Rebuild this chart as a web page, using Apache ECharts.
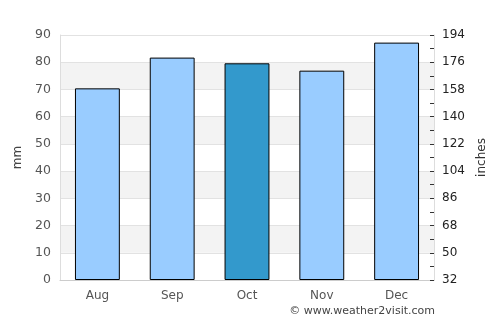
<!DOCTYPE html>
<html><head><meta charset="utf-8">
<script src="https://cdn.jsdelivr.net/npm/echarts@6/dist/echarts.min.js"></script>
<style>html,body{margin:0;padding:0;background:#fff}#c{width:500px;height:325px}</style>
</head><body><div id="c"></div>
<script>
const categories = ['Aug', 'Sep', 'Oct', 'Nov', 'Dec'];
const rainfallMm = [70.4, 81.7, 79.6, 76.9, 87.2];
const highlightIndex = 2;
const rightTickOffset = 32;

const chart = echarts.init(document.getElementById('c'));
chart.setOption({
  animation: false,
  textStyle: { fontFamily: 'DejaVu Sans' },
  grid: { left: 60, right: 66, top: 35, bottom: 45, containLabel: false, outerBoundsMode: 'none' },
  graphic: [{
    type: 'text', right: 65, top: 306,
    style: { text: '© www.weather2visit.com', font: '11px DejaVu Sans', fill: '#444' }
  }],
  xAxis: {
    type: 'category', data: categories,
    axisLine: { lineStyle: { color: '#ccc' } },
    axisTick: { show: false },
    axisLabel: { color: '#555', fontSize: 12, margin: 10 }
  },
  yAxis: [{
    type: 'value', min: 0, max: 90, interval: 10,
    name: 'mm', nameLocation: 'middle', nameGap: 34, nameRotate: 90,
    nameTextStyle: { color: '#444', fontSize: 12 },
    axisLine: { show: true, lineStyle: { color: '#ddd' } },
    axisTick: { show: false },
    axisLabel: { color: '#555', fontSize: 12.5, margin: 9 },
    splitLine: { lineStyle: { color: '#e2e2e2' } },
    splitArea: { show: true, areaStyle: { color: ['#ffffff', '#f3f3f3'] } }
  }, {
    type: 'value', min: 0, max: 162, interval: 18, position: 'right',
    name: 'inches', nameLocation: 'middle', nameGap: 42, nameRotate: 90,
    nameTextStyle: { color: '#333', fontSize: 12 },
    axisLine: { show: true, lineStyle: { color: '#ddd' } },
    axisTick: { show: true, inside: true, length: 4, lineStyle: { color: '#333' } },
    minorTick: { show: true, splitNumber: 2, length: 4, lineStyle: { color: '#333' } },
    axisLabel: { color: '#222', fontSize: 12, margin: 8, formatter: v => String(v + rightTickOffset) },
    splitLine: { show: false }
  }],
  series: [{
    type: 'bar', barWidth: '60%',
    data: rainfallMm.map((v, i) => ({
      value: v,
      itemStyle: { color: i === highlightIndex ? '#3399cc' : '#99ccff' }
    })),
    itemStyle: { borderColor: '#000', borderWidth: 1 }
  }]
});
</script></body></html>
